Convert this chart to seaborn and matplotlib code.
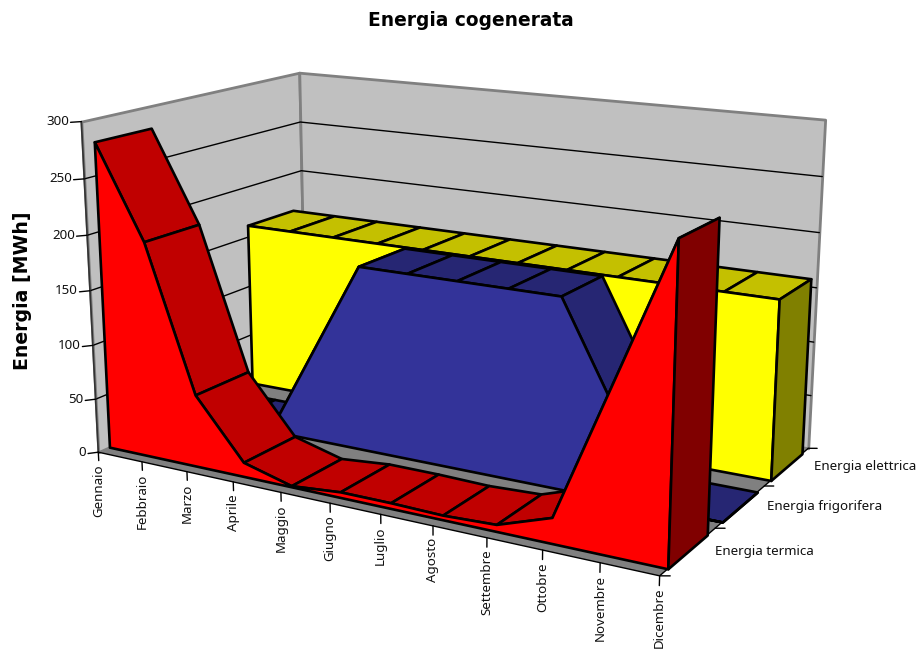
#!/usr/bin/env python3
"""Energia cogenerata - grafico ad aree 3D"""

import matplotlib
matplotlib.use('Agg')
import matplotlib.pyplot as plt
import seaborn as sns
from mpl_toolkits.mplot3d import proj3d
from mpl_toolkits.mplot3d.art3d import Poly3DCollection

mesi = ['Gennaio', 'Febbraio', 'Marzo', 'Aprile', 'Maggio', 'Giugno', 'Luglio',
        'Agosto', 'Settembre', 'Ottobre', 'Novembre', 'Dicembre']
serie = ['Energia termica', 'Energia frigorifera', 'Energia elettrica']
termica = [280, 197, 66, 13, 1, 5, 5, 4, 6, 22, 141, 260]
frigorifera = [0, 0, 0, 85, 170, 170, 170, 170, 170, 82, 0, 0]
elettrica = [162] * 12
zticks = [0, 50, 100, 150, 200, 250, 300]

# fronte, sopra, lato
colori = {
    'Energia termica': ('#ff0000', '#c00000', '#800000'),
    'Energia frigorifera': ('#333399', '#262673', '#1a1a66'),
    'Energia elettrica': ('#ffff00', '#c4c000', '#808000'),
}

sns.set_theme(style='white')
plt.rcParams['font.family'] = ['Noto Sans', 'DejaVu Sans']

fig = plt.figure(figsize=(9.21, 6.51), dpi=100)
ax = fig.add_axes([54.28 / 921, -38.38 / 651, 779.16 / 921, 779.16 / 651],
                  projection='3d', computed_zorder=False)
ax.set_proj_type('persp', focal_length=0.4484)
ax.view_init(14.963, -60.035, -0.013)
ax.set_box_aspect((1, 0.599, 0.5471))
ax.set_axis_off()

NX, NY, ZT = len(mesi) - 1, len(serie), zticks[-1]
ax.set_xlim(0, NX, view_margin=0)
ax.set_ylim(0, NY, view_margin=0)
ax.set_zlim(0, ZT, view_margin=0)


def faccia(verts, color, z, ec='black', lw=1.9):
    ax.add_collection3d(Poly3DCollection([verts], facecolors=color, edgecolors=ec,
                                         linewidths=lw, zorder=z), autolim=False)


def etichetta(x, y, z, testo, dx, dy, **kw):
    # testo dritto sullo schermo, ancorato al punto 3D proiettato
    u, v, _ = proj3d.proj_transform(x, y, z, ax.get_proj())
    ax.annotate(testo, (u, v), xytext=(dx, dy), textcoords='offset pixels',
                fontsize=9.6, color='#111111', zorder=41, **kw)


# pareti e pavimento
faccia([(0, 0, 0), (0, NY, 0), (0, NY, ZT), (0, 0, ZT)], '#c0c0c0', 1, '#808080', 2)
faccia([(0, NY, 0), (NX, NY, 0), (NX, NY, ZT), (0, NY, ZT)], '#c0c0c0', 1, '#808080', 2)
faccia([(0, 0, 0), (NX, 0, 0), (NX, NY, 0), (0, NY, 0)], '#808080', 2, 'none', 0)

for z in zticks[1:-1]:
    ax.plot([0, 0, NX], [0, NY, NY], [z, z, z], color='black', lw=1, zorder=3)
ax.plot([0, 0], [0, 0], [0, ZT], color='#333333', lw=1.2, zorder=4)
ax.plot([0, NX, NX], [0, 0, NY], [0, 0, 0], color='black', lw=1, zorder=4)

# aree, dal fondo verso il davanti
for i, (nome, valori) in reversed(list(enumerate(zip(serie, [termica, frigorifera, elettrica])))):
    y0, y1 = i + 0.14, i + 0.85
    fronte, sopra, lato = colori[nome]
    base = 10 * (3 - i)
    for k in range(NX):
        faccia([(k, y0, valori[k]), (k + 1, y0, valori[k + 1]),
                (k + 1, y1, valori[k + 1]), (k, y1, valori[k])], sopra, base + k * 0.01)
    faccia([(0, y0, 0)] + [(k, y0, v) for k, v in enumerate(valori)] + [(NX, y0, 0)], fronte, base + 1)
    faccia([(NX, y0, 0), (NX, y0, valori[-1]), (NX, y1, valori[-1]), (NX, y1, 0)], lato, base + 2)

# tacche ed etichette
for k, m in enumerate(mesi):
    ax.plot([k, k], [0, 0], [0, -8], color='black', lw=1, zorder=40)
    etichetta(k, 0, 0, m, 0, -12, rotation=90, ha='center', va='top')
for z in zticks:
    ax.plot([0, -0.113], [0, -0.067], [z, z], color='black', lw=1, zorder=40)
    etichetta(0, 0, z, str(z), -12, 0, ha='right', va='center')
for j in range(NY + 1):
    ax.plot([NX, NX + 0.14], [j, j + 0.036], [0, 0], color='black', lw=1, zorder=40)
for j, nome in enumerate(serie):
    etichetta(NX, j + 0.5, 0, nome, 27, 0, ha='left', va='center')

fig.text(471 / 921, 1 - 20 / 651, 'Energia cogenerata', ha='center', va='center',
         fontsize=13.4, fontweight='bold', family=['DejaVu Sans'], color='black')
fig.text(22 / 921, 1 - 291 / 651, 'Energia [MWh]', rotation=90, ha='center', va='center',
         fontsize=13.6, fontweight='bold', family=['DejaVu Sans'], color='black')

fig.savefig('out.png', dpi=100)
